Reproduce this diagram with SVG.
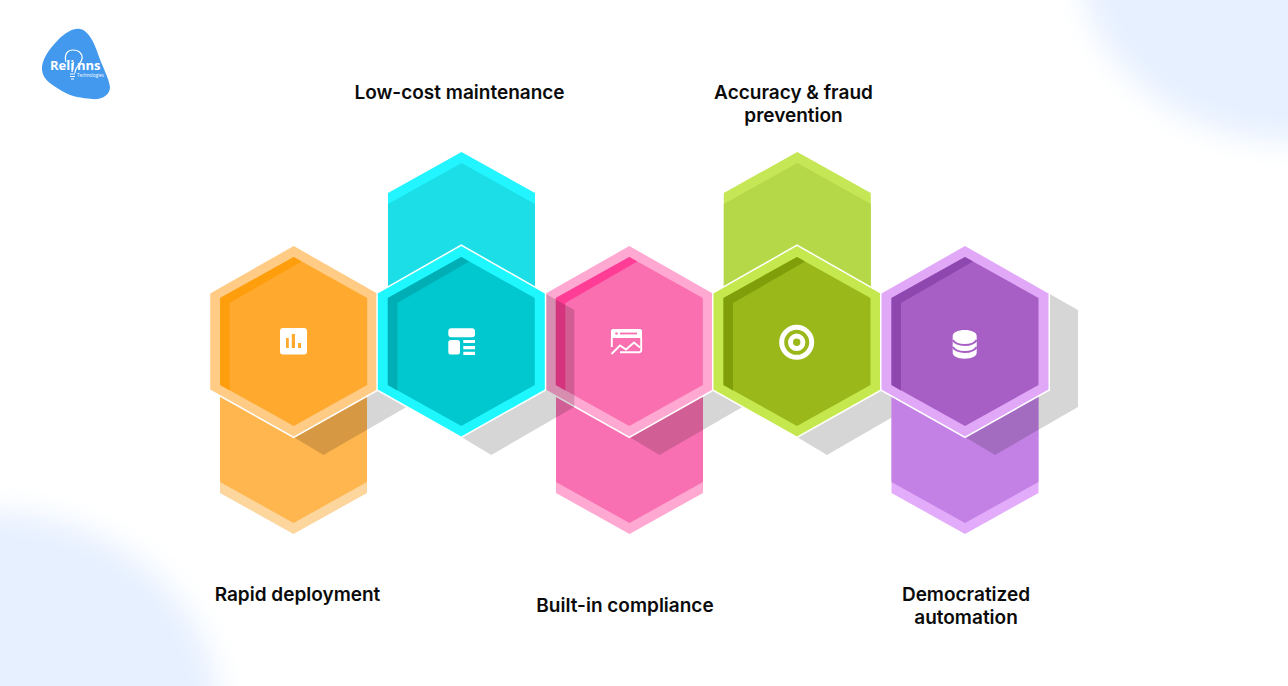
<svg xmlns="http://www.w3.org/2000/svg" width="1288" height="686" viewBox="0 0 1288 686">
<style>
.t{font-family:"Inter","Liberation Sans",sans-serif;font-weight:600;font-size:19px;fill:#0b0b0b;text-anchor:middle}
.shadow{fill:#000;fill-opacity:.16}
.outer{stroke:#fff;stroke-width:3;paint-order:stroke}
.ico{fill:#fff}
.logo{font-family:"Open Sans","Liberation Sans",sans-serif;fill:#fff}
</style>
<defs>
<filter id="blur" x="-30%" y="-30%" width="160%" height="160%"><feGaussianBlur stdDeviation="15"/></filter>
<polygon id="hexOuter" points="-83.500,293.500 0,246 83.500,293.500 83.500,389.500 0,436.500 -83.500,389.500"/>
<polygon id="hexInner" points="-73.500,298 0,257 73.500,298 73.500,385 0,426 -73.500,385"/>
<polygon id="hexBand" points="-73.500,298 0,257 8,261.500 -64,303 -64,390.500 -73.500,385"/>
<polygon id="shadowShape" points="83,293 113,310 113,407 30,455 0,437 83,390"/>
<polygon id="lowerOuter" points="-73.500,340 73.500,340 73.500,493 0,534 -73.500,493"/>
<polygon id="lowerInner" points="-73.500,340 73.500,340 73.500,482 0,523 -73.500,482"/>
<polygon id="topOuter" points="-73.500,340 -73.500,193 0,152 73.500,193 73.500,340"/>
<polygon id="topInner" points="-73.500,340 -73.500,204 0,163 73.500,204 73.500,340"/>
</defs>
<rect width="1288" height="686" fill="#fff"/>
<g id="background">
<ellipse cx="1295" cy="-45" rx="216" ry="186" fill="#E6F0FF" filter="url(#blur)"/>
<ellipse cx="-10" cy="720" rx="230" ry="208" fill="#E6F0FF" filter="url(#blur)"/>
</g>
<g id="logo">
<path d="M80 29C88 30 94 42 98 54C102 66 109 78 110 87C110 95 102 100 92 99C82 98 72 97 62 91C52 85 43 80 42 70C41 60 50 48 58 40C65 33 73 28 80 29Z" fill="#4299EE"/>
<path d="M66 62C64 55 67 50 73 50C79 50 83 54 82 59C81 63 78 65 76 69C75 71 75 72 75 73" fill="none" stroke="#fff" stroke-width="1.200"/>
<path d="M73.500 62L72 72" stroke="#fff" stroke-width="1.400"/>
<path d="M70 74H75M70 76.500H75M71 79H74" stroke="#fff" stroke-width="1.200"/>
<text class="logo" x="50" y="70" font-weight="700" font-size="13">Reli</text>
<text class="logo" x="77" y="69.500" font-weight="700" font-size="13">nns</text>
<text class="logo" x="77" y="76.500" font-size="4.400">Technologies</text>
</g>

<g id="node-rapid-deployment-back" transform="translate(293.500,0)">
<use href="#lowerOuter" fill="#FCD69D"/><use href="#lowerInner" fill="#FFB64F"/>
</g>
<use id="shadow-1" class="shadow" href="#shadowShape" x="293.500"/>
<g id="node-low-cost-back" transform="translate(461.500,0)">
<use href="#topOuter" fill="#22F5FF"/><use href="#topInner" fill="#1CDEE6"/>
</g>
<g id="node-accuracy-back" transform="translate(797.300,0)">
<use href="#topOuter" fill="#C5E655"/><use href="#topInner" fill="#B5D848"/>
</g>
<g id="node-compliance-back" transform="translate(629.500,0)">
<use href="#lowerOuter" fill="#FFA8D2"/><use href="#lowerInner" fill="#F970B2"/>
</g>
<use id="shadow-4" class="shadow" href="#shadowShape" x="797"/>
<g id="node-democratized-back" transform="translate(965,0)">
<use href="#lowerOuter" fill="#E3ACFB"/><use href="#lowerInner" fill="#C381E5"/>
</g>
<use id="shadow-5" class="shadow" href="#shadowShape" x="965"/>
<use id="shadow-3" class="shadow" href="#shadowShape" x="629.500"/>

<g id="node-rapid-deployment">
<g transform="translate(293.700,0)">
<use class="outer" href="#hexOuter" fill="#FFCB85"/>
<use href="#hexInner" fill="#FFA92F"/>
<use href="#hexBand" fill="#FF9E0D"/>
</g>
<rect class="ico" x="280" y="328" width="27" height="26.500" rx="3"/>
<path d="M286 338h2.800v10h-2.800zM291.800 334h3.200v14h-3.200zM298 343h3v5h-3z" fill="#FFA92F"/>
<text class="t" x="297.500" y="600.700">Rapid deployment</text>
</g>

<g id="node-built-in-compliance">
<g transform="translate(629.300,0)">
<use class="outer" href="#hexOuter" fill="#FFA8D2"/>
<use href="#hexInner" fill="#F96FB0"/>
<use href="#hexBand" fill="#FF3D97"/>
</g>
<path class="ico" d="M613 329H640a2 2 0 0 1 2 2V338H611V331a2 2 0 0 1 2-2Z"/>
<circle cx="616.500" cy="333.500" r="1.300" fill="#F96FB0"/>
<path d="M620 333.500H637" stroke="#F96FB0" stroke-width="1.800"/>
<path d="M611.800 338V347M641.200 338V350a2 2 0 0 1-2 2.200H620" fill="none" stroke="#fff" stroke-width="1.900"/>
<path d="M611.500 354L620 345.500L626 349.500L634 342.500L640 347.500" fill="none" stroke="#fff" stroke-width="1.900"/>
<text class="t" x="625" y="611.700">Built-in compliance</text>
</g>

<use id="shadow-2" class="shadow" href="#shadowShape" x="461.300"/>

<g id="node-low-cost-maintenance">
<g transform="translate(461.300,0)">
<use class="outer" href="#hexOuter" fill="#1FF7FF"/>
<use href="#hexInner" fill="#00C8CE"/>
<use href="#hexBand" fill="#00AFB6"/>
</g>
<rect class="ico" x="448.300" y="328.300" width="26.700" height="9" rx="3"/>
<rect class="ico" x="448.300" y="340" width="11.700" height="14.500" rx="2.500"/>
<path class="ico" d="M463.300 340H475V343H463.300zM463.300 346H475V349.200H463.300zM463.300 351.700H475V355H463.300z"/>
<text class="t" x="459.500" y="98.800">Low-cost maintenance</text>
</g>

<g id="node-accuracy-fraud-prevention">
<g transform="translate(797,0)">
<use class="outer" href="#hexOuter" fill="#C5E84E"/>
<use href="#hexInner" fill="#9BB81A"/>
<use href="#hexBand" fill="#7F9E0A"/>
</g>
<circle cx="796.700" cy="342.300" r="15" fill="none" stroke="#fff" stroke-width="5"/>
<circle cx="796.700" cy="342.300" r="6.200" fill="none" stroke="#fff" stroke-width="5"/>
<text class="t" x="793.500" y="98.800">Accuracy &amp; fraud</text>
<text class="t" x="793.500" y="121.800">prevention</text>
</g>

<g id="node-democratized-automation">
<g transform="translate(965,0)">
<use class="outer" href="#hexOuter" fill="#E1A8F8"/>
<use href="#hexInner" fill="#A75FC6"/>
<use href="#hexBand" fill="#8E47AF"/>
</g>
<path class="ico" d="M952.700 336C952.700 332.500 958 330 964.700 330S976.700 332.500 976.700 336V352.500C976.700 356.500 971.500 358.700 964.700 358.700S952.700 356.500 952.700 352.500Z"/>
<path d="M952.700 340C955 343.500 960 345 964.700 345S974.500 343.500 976.700 340M952.700 347C955 350.500 960 352 964.700 352S974.500 350.500 976.700 347" fill="none" stroke="#A75FC6" stroke-width="2"/>
<text class="t" x="966" y="600.500">Democratized</text>
<text class="t" x="966" y="623.500">automation</text>
</g>
<g id="connectors"/>
</svg>
